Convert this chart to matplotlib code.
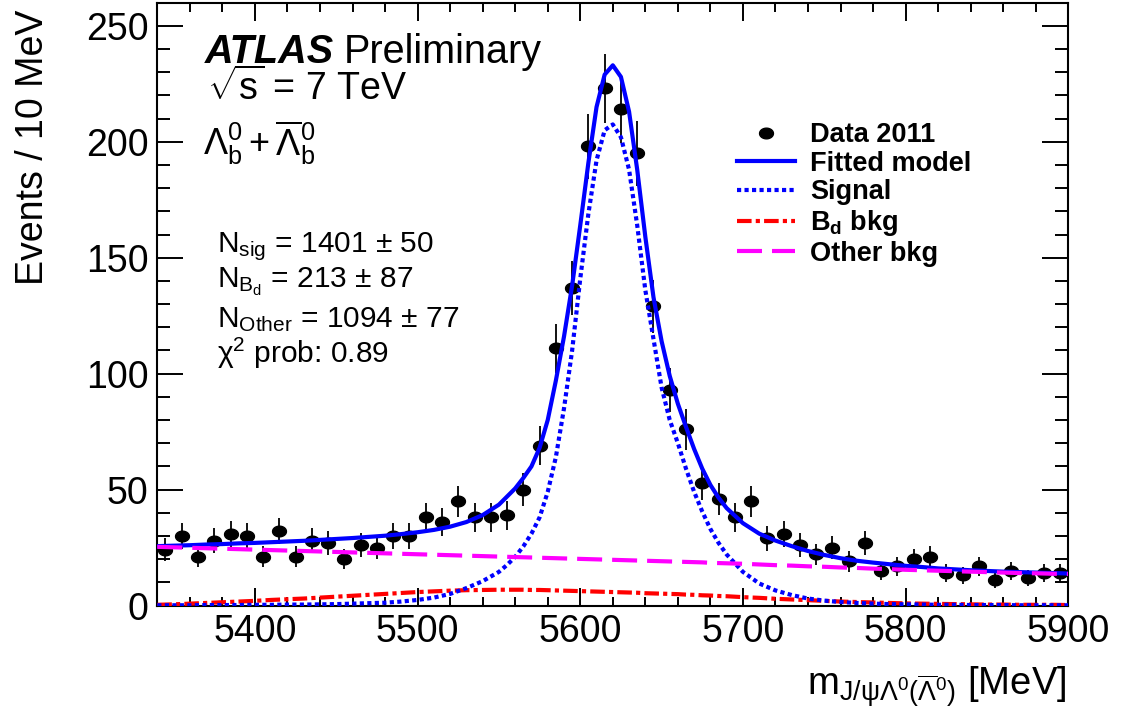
import matplotlib
matplotlib.use("Agg")
import matplotlib.pyplot as plt
import numpy as np
from matplotlib.path import Path
from matplotlib.lines import Line2D
from matplotlib.ticker import MultipleLocator

plt.rcParams['font.family'] = ['Liberation Sans', 'DejaVu Sans']
plt.rcParams['mathtext.fontset'] = 'custom'
plt.rcParams['mathtext.rm'] = 'Liberation Sans'
plt.rcParams['mathtext.it'] = 'Liberation Sans:italic'
plt.rcParams['mathtext.bf'] = 'Liberation Sans:bold'

# data: 10 MeV bins from 5340 to 5900
bin_centers = np.arange(5345, 5900, 10)
counts = [24, 30, 21, 28, 31, 30, 21, 32, 21, 28,
          27, 20, 26, 25, 30, 30, 38, 36, 45, 38,
          38, 39, 50, 69, 111, 137, 198, 223, 214, 195,
          129, 93, 76, 53, 46, 38, 45, 29, 31, 26,
          22, 25, 19, 27, 15, 17, 20, 21, 14, 13,
          17, 11, 15, 12, 14, 14]

# fit curves
curve_x = [5340, 5350, 5360, 5370, 5380, 5390, 5400, 5410, 5420, 5430,
           5440, 5450, 5460, 5470, 5480, 5490, 5500, 5510, 5520, 5530,
           5540, 5550, 5555, 5560, 5565, 5570, 5575, 5580, 5585, 5590,
           5595, 5600, 5605, 5610, 5615, 5620, 5625, 5630, 5635, 5640,
           5645, 5650, 5655, 5660, 5665, 5670, 5675, 5680, 5685, 5690,
           5700, 5710, 5720, 5730, 5740, 5750, 5760, 5770, 5780, 5790,
           5800, 5810, 5820, 5830, 5840, 5850, 5860, 5870, 5880, 5890, 5900]
fitted = [25.6, 25.8, 26.0, 26.3, 26.5, 26.8, 27.0, 27.3, 27.6, 27.9,
          28.3, 28.7, 29.1, 29.6, 30.1, 30.8, 31.6, 32.6, 34.0, 36.0,
          39.0, 43.5, 47.0, 50.5, 55.0, 60.0, 68.0, 80.0, 97.0, 116.0,
          138.0, 164.0, 191.0, 215.0, 229.0, 233.0, 228.0, 213.0, 188.0, 159.0,
          133.0, 114.0, 99.0, 87.0, 77.0, 67.5, 59.0, 52.0, 46.5, 42.0,
          35.5, 31.0, 28.0, 25.6, 23.5, 21.8, 20.4, 19.3, 18.5, 17.8,
          17.1, 16.6, 16.0, 15.6, 15.2, 14.9, 14.6, 14.4, 14.2, 14.0, 13.8]
signal = [0.1, 0.1, 0.1, 0.2, 0.2, 0.2, 0.3, 0.3, 0.4, 0.4,
          0.5, 0.6, 0.8, 1.0, 1.2, 1.7, 2.4, 3.4, 5.0, 7.5,
          10.5, 14.5, 17.5, 21.0, 25.5, 31.0, 38.0, 49.0, 64.0, 85.0,
          110.0, 141.0, 169.0, 192.0, 205.0, 207.5, 202.0, 188.0, 164.0, 136.0,
          115.0, 94.0, 80.0, 70.0, 59.0, 49.0, 40.5, 33.0, 27.0, 22.0,
          14.5, 9.5, 6.5, 4.5, 3.0, 2.1, 1.5, 1.1, 0.8, 0.6,
          0.5, 0.4, 0.3, 0.3, 0.2, 0.2, 0.2, 0.1, 0.1, 0.1, 0.1]
bd_bkg = [0.3, 0.5, 0.8, 1.1, 1.4, 1.7, 2.0, 2.4, 2.7, 3.0,
          3.4, 3.8, 4.2, 4.6, 5.0, 5.4, 5.8, 6.1, 6.4, 6.6,
          6.7, 6.8, 6.8, 6.8, 6.8, 6.7, 6.7, 6.6, 6.5, 6.4,
          6.3, 6.2, 6.1, 6.0, 5.9, 5.8, 5.7, 5.6, 5.5, 5.3,
          5.2, 5.1, 5.0, 4.9, 4.7, 4.6, 4.4, 4.3, 4.1, 4.0,
          3.6, 3.3, 2.9, 2.6, 2.3, 2.0, 1.7, 1.5, 1.3, 1.1,
          0.9, 0.8, 0.7, 0.6, 0.5, 0.4, 0.4, 0.3, 0.3, 0.3, 0.2]
other_bkg = [25.3, 25.1, 24.9, 24.7, 24.5, 24.3, 24.1, 23.9, 23.7, 23.5,
             23.3, 23.1, 22.9, 22.7, 22.5, 22.3, 22.1, 21.9, 21.7, 21.5,
             21.3, 21.1, 21.0, 20.9, 20.8, 20.7, 20.6, 20.5, 20.4, 20.3,
             20.2, 20.1, 20.0, 19.9, 19.8, 19.7, 19.6, 19.5, 19.4, 19.3,
             19.2, 19.1, 19.0, 18.9, 18.8, 18.7, 18.6, 18.4, 18.3, 18.2,
             18.0, 17.7, 17.4, 17.2, 16.9, 16.7, 16.4, 16.2, 15.9, 15.7,
             15.4, 15.2, 15.0, 14.8, 14.6, 14.4, 14.2, 14.0, 13.9, 13.7, 13.6]

W, H = 1131, 720
fig = plt.figure(figsize=(W / 100, H / 100), dpi=100)
ax = fig.add_axes([157.3 / W, 1 - 605.5 / H, (1068.3 - 157.3) / W, (605.5 - 2.7) / H])

def px(x, y):
    # pixel position (from top-left) -> figure fraction
    return x / W, 1 - y / H

# slightly wide round marker like the original
t = np.linspace(0, 2 * np.pi, 41)
ellipse = Path(np.column_stack([1.3 * np.cos(t), np.sin(t)]), closed=True)

ax.errorbar(bin_centers, counts, yerr=np.sqrt(counts), fmt='none',
            ecolor='black', elinewidth=1.3, zorder=2)
ax.plot(bin_centers, counts, ls='none', marker=ellipse, ms=10,
        color='black', zorder=2.5)

blue = '#0000ff'
ax.plot(curve_x, fitted, color=blue, lw=3, zorder=3)
ax.plot(curve_x, bd_bkg, color='#ff0000', lw=3, ls=(0, (3.5, 1, 1, 1)), zorder=3)
ax.plot(curve_x, signal, color=blue, lw=3, ls=(0, (1, 0.8)), zorder=3)
ax.plot(curve_x, other_bkg, color='#ff00ff', lw=3, ls=(0, (6, 2.4)), zorder=3)

ax.set_xlim(5340, 5900)
ax.set_ylim(0, 260)
ax.xaxis.set_major_locator(MultipleLocator(100))
ax.xaxis.set_minor_locator(MultipleLocator(20))
ax.yaxis.set_major_locator(MultipleLocator(50))
ax.yaxis.set_minor_locator(MultipleLocator(10))
ax.tick_params(which='both', direction='in', top=True, right=True, width=1.4,
               labelsize=27)
ax.tick_params(axis='x', which='major', length=13, pad=6)
ax.tick_params(axis='x', which='minor', length=6.5)
ax.tick_params(axis='y', which='major', length=19, pad=6.5)
ax.tick_params(axis='y', which='minor', length=9.6)
for s in ax.spines.values():
    s.set_linewidth(1.5)

ax.set_xlabel(r'm$_{\mathregular{J/\psi\Lambda^{0}(\overline{\Lambda}^{0})}}$ [MeV]',
              fontsize=27.5, ha='right', va='baseline')
ax.xaxis.set_label_coords((1066.7 - 157.3) / 911, (605.5 - 695) / 602.8)
ax.set_ylabel('Events / 10 MeV', fontsize=27, ha='right', va='baseline')
ax.yaxis.set_label_coords((43.3 - 157.3) / 911, (605.5 - 10) / 602.8)

# labels in the upper left
atlas = fig.text(*px(205, 63.3), 'ATLAS', fontsize=28.5, fontweight='bold',
                 style='italic', va='baseline')
fig.canvas.draw()
bb = atlas.get_window_extent(fig.canvas.get_renderer())
fig.text(bb.x1 / W + 10 / W, 1 - 63.3 / H, 'Preliminary', fontsize=28.5, va='baseline')
fig.text(*px(206.7, 100), r'$\mathregular{\sqrt{s}}$ = 7 TeV', fontsize=27, va='baseline')
fig.text(*px(203, 155), r'$\mathregular{\Lambda_{b}^{0}+\overline{\Lambda}_{b}^{0}}$',
         fontsize=26, va='baseline')

fit_lines = [r'N$_{\mathregular{sig}}$ = 1401 $\pm$ 50',
             r'N$_{\mathregular{B_{d}}}$ = 213 $\pm$ 87',
             r'N$_{\mathregular{Other}}$ = 1094 $\pm$ 77',
             r'$\mathregular{\chi^{2}}$ prob: 0.89']
for txt, yb in zip(fit_lines, [251.7, 288.3, 326.7, 363.3]):
    fig.text(*px(216.7, yb), txt, fontsize=21.5, va='baseline')

handles = [Line2D([], [], ls='none', marker=ellipse, ms=10, color='black'),
           Line2D([], [], color=blue, lw=3),
           Line2D([], [], color=blue, lw=3, ls=(0, (1, 0.8))),
           Line2D([], [], color='#ff0000', lw=3, ls=(0, (3.5, 1, 1, 1))),
           Line2D([], [], color='#ff00ff', lw=3, ls=(0, (6, 2.4)))]
labels = ['Data 2011', 'Fitted model', 'Signal', r'B$_{\mathbf{d}}$ bkg', 'Other bkg']
ax.legend(handles, labels, loc='upper left', bbox_to_anchor=px(737, 122),
          bbox_transform=fig.transFigure, frameon=False, borderpad=0,
          borderaxespad=0, handlelength=2.15, handletextpad=0.55,
          labelspacing=0.1, prop={'weight': 'bold', 'size': 19.5})

fig.savefig('out.png', dpi=100)
